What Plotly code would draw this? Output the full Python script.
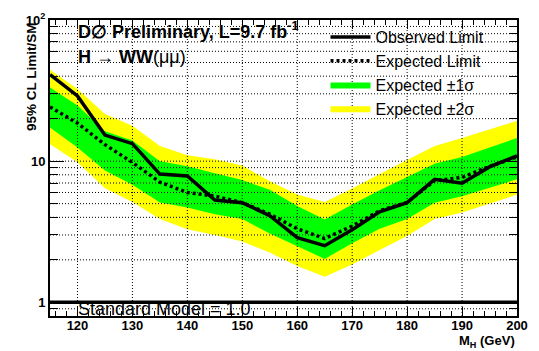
import math
import plotly.graph_objects as go

# ---------------- data ----------------
mass = [115, 120, 125, 130, 135, 140, 145, 150, 155, 160, 165, 170, 175, 180, 185, 190, 195, 200]
observed = [41.0, 29.0, 15.3, 13.3, 8.1, 7.85, 5.3, 5.08, 4.11, 2.87, 2.52, 3.27, 4.38, 5.08, 7.43, 6.97, 9.1, 10.9]
expected = [24.2, 18.6, 13.1, 9.8, 7.1, 6.0, 5.65, 5.08, 4.22, 3.32, 2.83, 3.47, 4.45, 5.1, 7.28, 7.67, 9.18, 10.7]
plus1 = [33.2, 24.8, 16.3, 14.0, 10.0, 9.2, 8.2, 7.35, 6.27, 4.82, 3.86, 4.94, 6.21, 7.67, 9.6, 10.7, 12.5, 14.6]
minus1 = [17.3, 12.5, 8.6, 6.8, 5.1, 4.7, 4.2, 3.89, 3.07, 2.48, 2.03, 2.62, 3.32, 3.89, 5.08, 5.65, 6.44, 7.43]
plus2 = [44.5, 32.4, 21.6, 17.8, 12.8, 11.0, 10.3, 9.3, 7.2, 5.8, 5.13, 6.4, 8.1, 10.2, 12.8, 14.6, 16.7, 19.3]
minus2 = [13.2, 9.84, 6.44, 5.13, 3.89, 3.3, 3.0, 2.7, 2.25, 1.81, 1.52, 1.85, 2.35, 2.95, 3.89, 4.33, 5.0, 5.79]

sm_value = 1.0
x_range = [115, 200]
y_range = [0.8, 100]
x_major = [120, 130, 140, 150, 160, 170, 180, 190, 200]
x_grid = [120, 130, 140, 150, 160, 170, 180, 190]
y_major = [1, 10, 100]
y_major_text = ["1", "10", "10<sup>2</sup>"]
y_minor = [0.9, 2, 3, 4, 5, 6, 7, 8, 9, 20, 30, 40, 50, 60, 70, 80, 90]
y_grid = [0.9, 2, 3, 4, 5, 6, 7, 8, 9, 10, 20, 30, 40, 50, 60, 70, 80, 90]

# ---------------- layout geometry ----------------
W, H = 539, 351
ML, MR, MT, MB = 50, 11, 12, 35
PW, PH = W - ML - MR, H - MT - MB

def px(xp):
    return (xp - ML) / PW

def py(yp):
    return 1 - (yp - MT) / PH

FONT = "Liberation Sans, Arial, Helvetica, sans-serif"
YELLOW = "#ffff00"
GREEN = "#00ff00"

fig = go.Figure()

fig.add_trace(go.Scatter(
    x=mass + mass[::-1], y=plus2 + minus2[::-1], fill="toself",
    fillcolor=YELLOW, line=dict(width=0, color=YELLOW), mode="lines",
    name="Expected \u00b12\u03c3", legendrank=4, hoverinfo="skip"))
fig.add_trace(go.Scatter(
    x=mass + mass[::-1], y=plus1 + minus1[::-1], fill="toself",
    fillcolor=GREEN, line=dict(width=0, color=GREEN), mode="lines",
    name="Expected \u00b11\u03c3", legendrank=3, hoverinfo="skip"))
fig.add_trace(go.Scatter(
    x=mass, y=expected, mode="lines",
    line=dict(color="black", width=3.5, dash="3px,3px"),
    name="Expected Limit", legendrank=2))
fig.add_trace(go.Scatter(
    x=mass, y=observed, mode="lines",
    line=dict(color="black", width=3.5),
    name="Observed Limit", legendrank=1))

shapes = []
for g in x_grid:
    shapes.append(dict(type="line", xref="x", yref="y domain", x0=g, x1=g, y0=0, y1=1,
                       line=dict(color="black", width=1, dash="1px,2px"), layer="above"))
for g in y_grid:
    shapes.append(dict(type="line", xref="x domain", yref="y", x0=0, x1=1, y0=g, y1=g,
                       line=dict(color="black", width=1, dash="1px,2px"), layer="above"))
shapes.append(dict(type="line", xref="x domain", yref="y", x0=0, x1=1, y0=sm_value, y1=sm_value,
                   line=dict(color="black", width=3.5), layer="above"))

annotations = [
    dict(text="<b>D\u2205 Preliminary, L=9.7 fb<sup>-1</sup></b>", x=px(77), y=py(23),
         xref="paper", yref="paper", xanchor="left", yanchor="middle", showarrow=False,
         font=dict(family=FONT, size=18, color="black")),
    dict(text="<b>H</b> \u2192 <b>WW</b>(\u03bc\u03bc)", x=px(77), y=py(50),
         xref="paper", yref="paper", xanchor="left", yanchor="middle", showarrow=False,
         font=dict(family=FONT, size=18, color="black")),
    dict(text="Standard Model = 1.0", x=px(77), y=py(309),
         xref="paper", yref="paper", xanchor="left", yanchor="middle", showarrow=False,
         font=dict(family=FONT, size=18, color="black")),
    dict(text="<b>M<sub>H</sub> (GeV)</b>", x=px(528), y=py(342),
         xref="paper", yref="paper", xanchor="right", yanchor="middle", showarrow=False,
         font=dict(family=FONT, size=13, color="black")),
    dict(text="<b>95% CL Limit/SM</b>", x=px(31), y=py(12), textangle=-90,
         xref="paper", yref="paper", xanchor="center", yanchor="top", showarrow=False,
         font=dict(family=FONT, size=13.5, color="black")),
]

fig.update_layout(
    width=W, height=H,
    margin=dict(l=ML, r=MR, t=MT, b=MB, pad=0),
    paper_bgcolor="white", plot_bgcolor="white",
    font=dict(family=FONT, color="black"),
    showlegend=True,
    legend=dict(x=px(332), y=py(12), xanchor="left", yanchor="top",
                bgcolor="rgba(0,0,0,0)", borderwidth=0,
                font=dict(family=FONT, size=16, color="black"),
                itemwidth=40, tracegroupgap=0),
    shapes=shapes, annotations=annotations,
)

fig.update_xaxes(
    range=x_range, showgrid=False, zeroline=False,
    showline=True, linecolor="black", linewidth=2, mirror="allticks",
    ticks="inside", ticklen=9, tickwidth=1, tickcolor="black",
    tickvals=x_major, ticktext=[f"<b>{v}</b>" for v in x_major],
    tickfont=dict(family=FONT, size=13, color="black"),
    ticklabelstandoff=-4,
    minor=dict(ticks="inside", ticklen=5, dtick=2, tick0=120, tickcolor="black", showgrid=False),
)
fig.update_yaxes(
    type="log", range=[math.log10(y_range[0]), math.log10(y_range[1])],
    showgrid=False, zeroline=False,
    showline=True, linecolor="black", linewidth=2, mirror="allticks",
    ticks="inside", ticklen=14, tickwidth=1, tickcolor="black",
    tickvals=y_major, ticktext=[f"<b>{t}</b>" for t in y_major_text],
    tickfont=dict(family=FONT, size=13, color="black"),
    minor=dict(ticks="inside", ticklen=8, tickvals=y_minor, tickcolor="black", showgrid=False),
)

fig.write_html("out.html", config={"displayModeBar": False},
               post_script="document.body.style.margin='0';")
